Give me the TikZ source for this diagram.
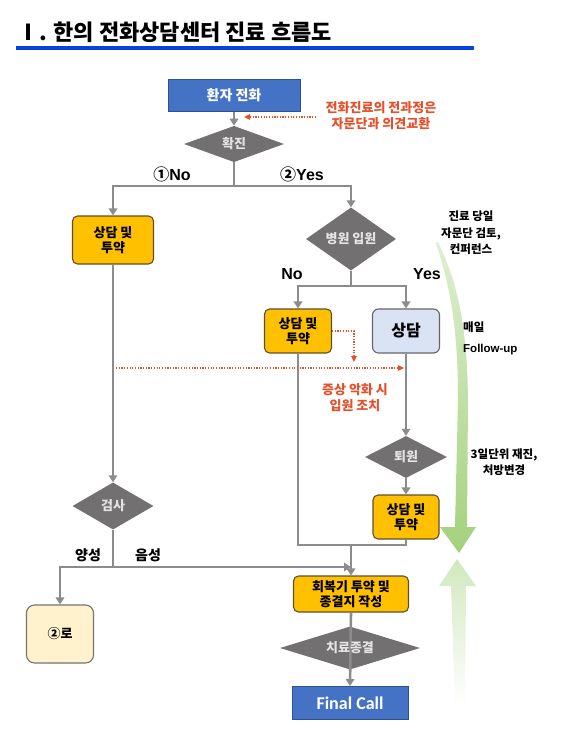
\documentclass[tikz,border=0pt]{standalone}
\usepackage{fontspec}
\setmainfont{Noto Sans CJK KR}
\newfontfamily\latf{Liberation Sans}
\newfontfamily\calf{Carlito}
\usetikzlibrary{arrows.meta,shapes.geometric}
\definecolor{boxY}{HTML}{FFC000}
\definecolor{boxYb}{HTML}{5E5030}
\definecolor{diaG}{HTML}{727070}
\definecolor{diaT}{HTML}{E4E4E4}
\definecolor{lineG}{HTML}{8C8C8C}
\definecolor{blueB}{HTML}{4472C4}
\definecolor{blueBb}{HTML}{2F528F}
\definecolor{lightB}{HTML}{DAE3F3}
\definecolor{lightY}{HTML}{FFF2CC}
\definecolor{redT}{HTML}{E5502B}
\definecolor{titleB}{HTML}{0B3FE3}
\definecolor{grA}{HTML}{A3D17D}
\tikzset{
  ybox/.style={rectangle, rounded corners=5pt, fill=boxY, draw=boxYb, line width=1.1pt,
    font=\bfseries\fontsize{13}{15.5}\selectfont, align=center, inner sep=0pt},
  bbox/.style={rectangle, fill=blueB, draw=blueBb, line width=1pt, text=white,
    font=\bfseries\fontsize{14}{16}\selectfont, inner sep=0pt},
  dia/.style={diamond, fill=diaG, draw=none, text=diaT, inner sep=0pt,
    font=\bfseries\fontsize{13}{15}\selectfont},
  conn/.style={draw=lineG, line width=2.6pt, -{Triangle[length=7pt,width=8.5pt]}},
  plain/.style={draw=lineG, line width=2.6pt},
  reddot/.style={draw=redT, line width=1.4pt, dash pattern=on 1.2pt off 1.5pt,
    -{Triangle[length=6pt,width=5.5pt]}},
  redtxt/.style={text=redT, font=\bfseries\fontsize{13}{16}\selectfont, align=center, inner sep=0pt},
  lbl/.style={font=\bfseries\fontsize{16}{18}\selectfont, inner sep=0pt},
  side/.style={font=\bfseries\fontsize{11.5}{16.5}\selectfont, align=center, inner sep=0pt}
}
\begin{document}
\begin{tikzpicture}[x=1pt,y=-1pt]
\useasboundingbox (0,0) rectangle (563,745);
\fill[white] (0,0) rectangle (563,745);
% title
\node[anchor=base west, inner sep=0pt, font=\bfseries\fontsize{22}{25}\selectfont] (title) at (17,40) {Ⅰ. 한의 전화상담센터 진료 흐름도};
\fill[titleB] (16,45.5) rectangle (474,49.5);
% green arrows
\shade[top color=grA!35, bottom color=grA] (436,243) .. controls (451,290) and (458,330) .. (458,400) -- (455,527) -- (440,527) -- (459,553) -- (476,527) -- (467,527) -- (468,400) .. controls (467,320) and (456,280) .. (438,242) -- cycle;
\shade[top color=grA!50, bottom color=white] (457,559) -- (476,586) -- (466,586) -- (465,705) -- (455,705) -- (451,586) -- (439,586) -- cycle;
% nodes
\node[bbox, minimum width=132pt, minimum height=32pt] (call) at (234,95) {환자 전화};
\node[dia, minimum width=100pt, minimum height=36pt] (conf) at (234,144) {확진};
\node[ybox, minimum width=81pt, minimum height=48pt] (lbox) at (113,240) {상담 및\\투약};
\node[dia, minimum width=90pt, minimum height=48pt] (hosp) at (351,239) {병원 입원};
\node[ybox, minimum width=67pt, minimum height=44pt] (mid) at (298,331) {상담 및\\투약};
\node[rectangle, rounded corners=6pt, fill=lightB, draw=black!60, line width=1.1pt, inner sep=0pt,
  minimum width=67pt, minimum height=44pt, font=\bfseries\fontsize{16}{18}\selectfont] (sd) at (406,331) {상담};
\node[dia, minimum width=82pt, minimum height=42pt] (toe) at (406,457) {퇴원};
\node[ybox, minimum width=66pt, minimum height=44pt] (rbox) at (406,517) {상담 및\\투약};
\node[dia, minimum width=81pt, minimum height=47pt] (test) at (113,506) {검사};
\node[rectangle, rounded corners=8pt, fill=lightY, draw=black!55, line width=1.1pt, inner sep=0pt,
  minimum width=67pt, minimum height=58pt, font=\bfseries\fontsize{13}{15}\selectfont] (ro) at (60,634) {②로};
\node[ybox, minimum width=115pt, minimum height=36pt] (rec) at (351,594) {회복기 투약 및\\종결지 작성};
\node[dia, minimum width=140pt, minimum height=43pt] (end) at (350,648) {};
\node[bbox, minimum width=116pt, minimum height=33pt, font=\calf\bfseries\fontsize{18}{20}\selectfont] (fc) at (350,703) {Final Call};
% coordinates
\coordinate (j1) at (234,186);
\coordinate (j2) at (351,286);
\coordinate (j3) at (351,545);
\coordinate (j4) at (113,567);
\coordinate (j5) at (351,567);
\coordinate (r1) at (316,117);
\coordinate (r2) at (244,117);
\coordinate (r3) at (354,331);
\coordinate (r4) at (354,362);
\coordinate (r5) at (116,368);
\coordinate (r6) at (404,368);
% connectors
\draw[conn] (call.south) -- (conf.north);
\draw[plain] (conf.south) -- (j1);
\draw[conn] (j1) -| (lbox.north);
\draw[conn] (j1) -| (hosp.north);
\draw[plain] (hosp.south) -- (j2);
\draw[conn] (j2) -| (mid.north);
\draw[conn] (j2) -| (sd.north);
\draw[conn] (sd.south) -- (toe.north);
\draw[conn] (toe.south) -- (rbox.north);
\draw[plain] (mid.south) |- (j3) -| (rbox.south);
\draw[conn] (j3) -- (rec.north);
\draw[conn] (lbox.south) -- (test.north);
\draw[plain] (test.south) -- (j4);
\draw[conn] (j4) -- (j5);
\draw[conn] (j4) -| (ro.north);
\draw[conn] (rec.south) -- (fc.north);
\node[dia, fill=none, minimum width=140pt, minimum height=43pt] (endt) at (end) {치료종결};
% red dotted
\draw[reddot] (r1) -- (r2);
\draw[reddot] (mid.east) -- (r3) -- (r4);
\draw[reddot] (r5) -- (r6);
% labels
\node[redtxt] (note1) at (381,116) {전화진료의 전과정은\\자문단과 의견교환};
\node[redtxt] (note2) at (355,398) {증상 악화 시\\입원 조치};
\node[lbl] (no1) at (172,174) {①\latf No};
\node[lbl] (yes1) at (302,174) {②\latf Yes};
\node[lbl, font=\latf\bfseries\fontsize{16}{18}\selectfont] (no2) at (292,274) {No};
\node[lbl, font=\latf\bfseries\fontsize{16}{18}\selectfont] (yes2) at (427,274) {Yes};
\node[font=\bfseries\fontsize{14}{16}\selectfont, inner sep=0pt] (pos) at (88,555) {양성};
\node[font=\bfseries\fontsize{14}{16}\selectfont, inner sep=0pt] (neg) at (148,555) {음성};
\node[side] (s1) at (471,233) {진료 당일\\자문단 검토,\\컨퍼런스};
\node[side, anchor=west] (s2) at (463,327) {매일};
\node[side, anchor=west, font=\latf\bfseries\fontsize{11.5}{14}\selectfont] (s3) at (463,350) {Follow-up};
\node[side] (s4) at (504,462) {3일단위 재진,\\처방변경};
\end{tikzpicture}
\end{document}
